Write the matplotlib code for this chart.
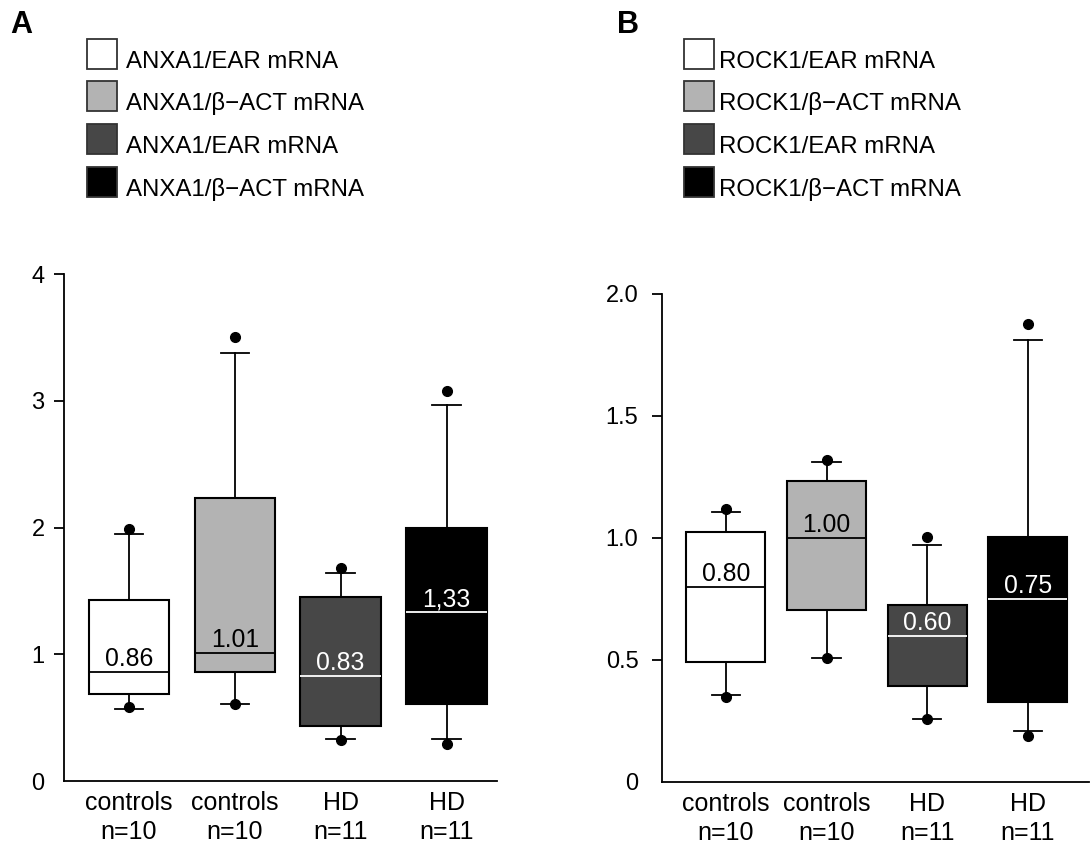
import matplotlib
matplotlib.use("Agg")
import matplotlib.pyplot as plt
from matplotlib.patches import Rectangle

W, H, DPI = 1090, 844, 100
plt.rcParams['font.family'] = ['Liberation Sans', 'DejaVu Sans']

# ---- data -----------------------------------------------------------
groups = ["controls\nn=10", "controls\nn=10", "HD\nn=11", "HD\nn=11"]
fills = ["#ffffff", "#b3b3b3", "#474747", "#000000"]
median_colors = ["black", "black", "white", "white"]

anxa1_legend = ["ANXA1/EAR mRNA", "ANXA1/\u03b2\u2212ACT mRNA",
                "ANXA1/EAR mRNA", "ANXA1/\u03b2\u2212ACT mRNA"]
anxa1_median = [0.86, 1.01, 0.83, 1.33]
anxa1_median_text = ["0.86", "1.01", "0.83", "1,33"]
anxa1_q1 = [0.69, 0.86, 0.43, 0.61]
anxa1_q3 = [1.43, 2.23, 1.45, 2.00]
anxa1_whislo = [0.565, 0.61, 0.33, 0.33]
anxa1_whishi = [1.95, 3.38, 1.64, 2.97]
anxa1_min = [0.58, 0.61, 0.32, 0.29]
anxa1_max = [1.99, 3.50, 1.68, 3.08]
anxa1_yticks = [0, 1, 2, 3, 4]
anxa1_yticklabels = ["0", "1", "2", "3", "4"]

rock1_legend = ["ROCK1/EAR mRNA", "ROCK1/\u03b2\u2212ACT mRNA",
                "ROCK1/EAR mRNA", "ROCK1/\u03b2\u2212ACT mRNA"]
rock1_median = [0.80, 1.00, 0.60, 0.75]
rock1_median_text = ["0.80", "1.00", "0.60", "0.75"]
rock1_q1 = [0.49, 0.704, 0.393, 0.329]
rock1_q3 = [1.026, 1.233, 0.726, 1.003]
rock1_whislo = [0.355, 0.509, 0.26, 0.209]
rock1_whishi = [1.106, 1.31, 0.973, 1.81]
rock1_min = [0.35, 0.51, 0.26, 0.19]
rock1_max = [1.12, 1.32, 1.004, 1.879]
rock1_yticks = [0, 0.5, 1.0, 1.5, 2.0]
rock1_yticklabels = ["0", "0.5", "1.0", "1.5", "2.0"]

# ---- helpers --------------------------------------------------------
fig = plt.figure(figsize=(W / DPI, H / DPI), dpi=DPI)


def fx(x):
    return x / W


def fy(y):
    return 1 - y / H


def make_axes(left, right, top, bottom):
    return fig.add_axes([fx(left), fy(bottom), (right - left) / W, (bottom - top) / H])


def draw_panel(ax, med, med_text, q1, q3, lo, hi, mn, mx, width, capw,
               yticks, yticklabels, ylim, xlim, ypad):
    positions = [1, 2, 3, 4]
    stats = []
    for i in range(4):
        stats.append(dict(med=med[i], q1=q1[i], q3=q3[i],
                          whislo=lo[i], whishi=hi[i],
                          fliers=[mn[i], mx[i]]))
    bp = ax.bxp(stats, positions=positions, widths=width, capwidths=capw,
                patch_artist=True, showfliers=True,
                boxprops=dict(linewidth=1.5, edgecolor="black"),
                whiskerprops=dict(linewidth=1.3, color="black"),
                capprops=dict(linewidth=1.3, color="black"),
                medianprops=dict(linewidth=1.3),
                flierprops=dict(marker="o", markerfacecolor="black",
                                markeredgecolor="black", markersize=7))
    for patch, fc in zip(bp["boxes"], fills):
        patch.set_facecolor(fc)
    for line, mc in zip(bp["medians"], median_colors):
        line.set_color(mc)
    for i in range(4):
        ax.annotate(med_text[i], (positions[i], med[i]), xytext=(0, 4),
                    textcoords="offset points", ha="center", va="baseline",
                    fontsize=17.8, color=median_colors[i])

    ax.set_xlim(*xlim)
    ax.set_ylim(*ylim)
    ax.set_yticks(yticks)
    ax.set_yticklabels(yticklabels)
    ax.set_xticks(positions)
    ax.set_xticklabels(groups, linespacing=1.3)
    ax.tick_params(axis="x", length=0, pad=7, labelsize=18)
    ax.tick_params(axis="y", length=7, width=1.3, pad=ypad, labelsize=17)
    ax.yaxis.get_major_ticks()[0].tick1line.set_visible(False)
    for s in ("top", "right"):
        ax.spines[s].set_visible(False)
    for s in ("left", "bottom"):
        ax.spines[s].set_linewidth(1.3)
    ax.spines["left"].set_bounds(ylim[0], ylim[1])
    ax.patch.set_alpha(0)


def draw_legend(x_box, x_text, labels):
    tops = [39, 81, 124, 167]
    size = 30
    for top, fc, lab in zip(tops, fills, labels):
        fig.add_artist(Rectangle((fx(x_box), fy(top + size)), size / W, size / H,
                                 transform=fig.transFigure, facecolor=fc,
                                 edgecolor="#333333", linewidth=1.3))
        fig.text(fx(x_text), fy(top + size - 1), lab, fontsize=17.3,
                 ha="left", va="baseline")


# ---- panel A --------------------------------------------------------
axA = make_axes(64, 497, 274, 781)
draw_panel(axA, anxa1_median, anxa1_median_text, anxa1_q1, anxa1_q3,
           anxa1_whislo, anxa1_whishi, anxa1_min, anxa1_max,
           width=0.76, capw=0.27, yticks=anxa1_yticks,
           yticklabels=anxa1_yticklabels, ylim=(0, 4), xlim=(0.386, 4.477),
           ypad=7)
fig.text(fx(10), fy(33), "A", fontsize=22, fontweight="bold",
         ha="left", va="baseline")
draw_legend(87, 126, anxa1_legend)

# ---- panel B --------------------------------------------------------
axB = make_axes(662, 1089, 294, 782)
draw_panel(axB, rock1_median, rock1_median_text, rock1_q1, rock1_q3,
           rock1_whislo, rock1_whishi, rock1_min, rock1_max,
           width=0.785, capw=0.28, yticks=rock1_yticks,
           yticklabels=rock1_yticklabels, ylim=(0, 2), xlim=(0.364, 4.61),
           ypad=10)
fig.text(fx(617), fy(33), "B", fontsize=22, fontweight="bold",
         ha="left", va="baseline")
draw_legend(684, 719, rock1_legend)

fig.savefig("out.png", dpi=DPI)
